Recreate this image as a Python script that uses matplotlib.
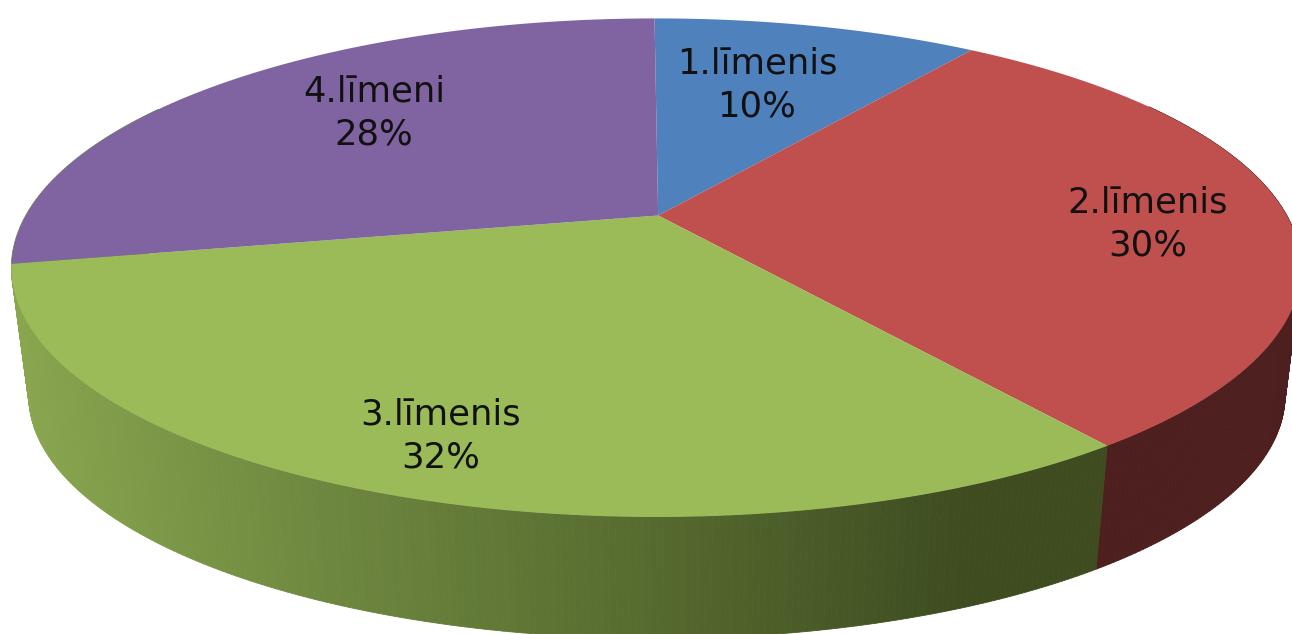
"""3D looking pie chart of level shares, drawn with a perspective map of a circle."""

import numpy as np
import matplotlib
matplotlib.use("Agg")
import matplotlib.pyplot as plt
from matplotlib.collections import PolyCollection
from matplotlib.colors import LinearSegmentedColormap
from matplotlib.patches import Polygon

# Data
labels = ["1.līmenis", "2.līmenis", "3.līmenis", "4.līmeni"]
shares = [10, 30, 32, 28]

# Style
top_colors = ["#4F81BD", "#C0504D", "#9BBB59", "#8064A2"]
red_side = "#4D1F1E"
green_side = LinearSegmentedColormap.from_list(
    "green_side", ["#8AA64F", "#6E873F", "#566B2F", "#3E4C20", "#3E4C20"])
label_xy = [(757, 85), (1148, 224), (441, 436), (374, 113)]

# Where points of the circle land on screen: (radius, angle clockwise from top) -> pixel
# repeated entries count for more in the fit
ref_polar = [(0, 0), (0, 0), (0, 0), (1, 0), (1, 0), (1, 36), (1, 144), (1, 144), (1, 144),
             (1, 259.2), (1, 259.2), (1, 259.2), (1, 180), (1, 100)]
ref_screen = [(658, 216), (658, 216), (658, 216), (658, 12), (658, 12), (965, 43),
              (1113, 440), (1113, 440), (1113, 440), (12, 268), (12, 268), (12, 268),
              (652, 512), (1293, 285)]


def fit_map():
    weights = np.ones(len(ref_polar))
    for _ in range(20):
        rows = []
        rhs = []
        for (r, a), (x, y), k in zip(ref_polar, ref_screen, weights):
            u, v = r * np.sin(np.radians(a)), r * np.cos(np.radians(a))
            rows.append(np.array([u, v, 1, 0, 0, 0, -u * x, -v * x]) * k)
            rows.append(np.array([0, 0, 0, u, v, 1, -u * y, -v * y]) * k)
            rhs += [x * k, y * k]
        h = np.linalg.lstsq(np.array(rows), np.array(rhs), rcond=None)[0]
        # divide by w so the fit minimises the error in pixels
        weights = np.array([1 / (1 + h[6] * r * np.sin(np.radians(a)) + h[7] * r * np.cos(np.radians(a)))
                            for r, a in ref_polar])
    return h


H = fit_map()


def project(angles, r=1.0):
    u = r * np.sin(np.radians(angles))
    v = r * np.cos(np.radians(angles))
    w = 1 + H[6] * u + H[7] * v
    x = (H[0] * u + H[1] * v + H[2]) / w
    y = (H[3] * u + H[4] * v + H[5]) / w
    return x, y


def project_bottom(angles):
    # bottom plate is the top plate shrunk a little and moved down
    x, y = project(angles)
    return 680 + 0.974 * (x - 680), 0.974 * y + 135


fig = plt.figure(figsize=(12.92, 6.34), dpi=100)
ax = fig.add_axes([0, 0, 1, 1])
ax.set_xlim(0, 1292)
ax.set_ylim(634, 0)
ax.axis("off")

edges = np.cumsum([0] + shares) / sum(shares) * 360

# Side wall, only the front is visible
quads = []
colors = []
for i in range(len(shares)):
    steps = np.arange(edges[i], edges[i + 1] + 0.5, 0.5)
    steps = steps[(steps >= 60) & (steps <= 300)]
    for a, b in zip(steps[:-1], steps[1:]):
        pair = np.array([a, b])
        xt, yt = project(pair)
        xb, yb = project_bottom(pair)
        quads.append([(xt[0], yt[0]), (xt[1], yt[1]), (xb[1], yb[1]), (xb[0], yb[0])])
        if i == 1:
            colors.append(red_side)
        else:
            colors.append(green_side((xt[0] + xt[1]) / 2 / 1292))
ax.add_collection(PolyCollection(quads, facecolors=colors, edgecolors=colors, linewidths=0.6))

# Top surface
for i in range(len(shares)):
    steps = np.linspace(edges[i], edges[i + 1], 200)
    x, y = project(steps)
    apex = project(np.array([0.0]), r=0.0)
    pts = np.column_stack([np.r_[apex[0], x], np.r_[apex[1], y]])
    ax.add_patch(Polygon(pts, closed=True, facecolor=top_colors[i], edgecolor="none"))

# Labels
for i in range(len(shares)):
    ax.text(label_xy[i][0], label_xy[i][1], f"{labels[i]}\n{shares[i]}%", ha="center", va="center",
            fontsize=25.5, family="DejaVu Sans", color="#111111", linespacing=1.35)

fig.savefig("out.png", dpi=100)
